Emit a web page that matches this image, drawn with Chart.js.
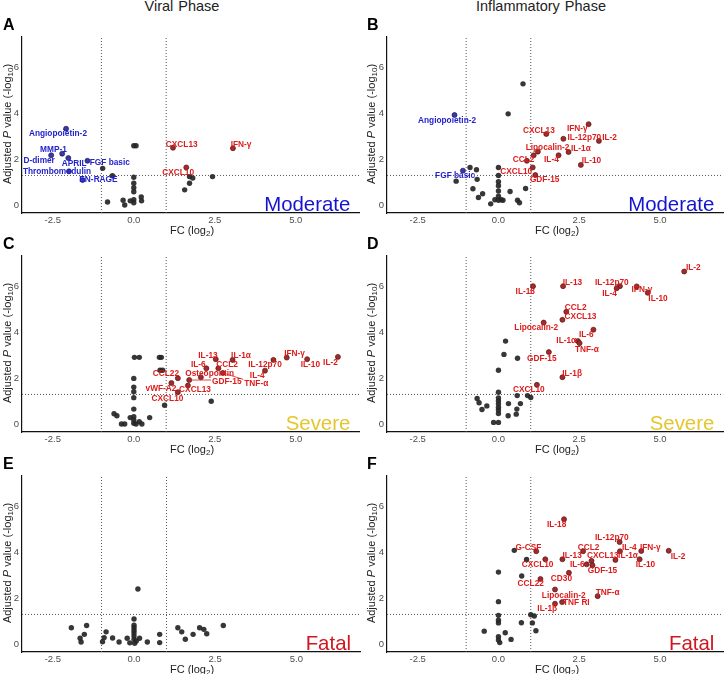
<!DOCTYPE html>
<html>
<head>
<meta charset="utf-8">
<script src="https://cdn.jsdelivr.net/npm/chart.js@4.4.1/dist/chart.umd.min.js"></script>
<style>
    body { margin: 0; background: #fff; font-family: "Liberation Sans", Arial, sans-serif; }
    #fig { position: relative; width: 728px; height: 674px; overflow: hidden; }
    #fig canvas { position: absolute; }
    .col-title { position: absolute; top: -2px; width: 300px; text-align: center; font-size: 14.5px; line-height: 16px; color: #222; word-spacing: 1px; }
    .letter { position: absolute; font-weight: bold; font-size: 16px; line-height: 18px; color: #000; }
    .ytitle { position: absolute; width: 180px; height: 14px; line-height: 14px; text-align: center; font-size: 11px; color: #222; white-space: nowrap; transform: rotate(-90deg); }
    .xtitle { position: absolute; width: 120px; height: 14px; line-height: 14px; text-align: center; font-size: 11px; color: #222; }
    sub { font-size: 8px; vertical-align: -2px; line-height: 0; }
</style>
</head>
<body>
<div id="fig"></div>
<script>
const xTicks = [-2.5, 0, 2.5, 5];
const yTicks = [0, 2, 4, 6];
const fcCut = 1;
const pCut = 1.3;
const columnTitles = ['Viral Phase', 'Inflammatory Phase'];

// ---- A: viral phase, moderate ----
const viralModNs = [[-0.96,1.61],[-0.66,1.29],[-0.81,0.14],[0.0,2.6],[0.07,2.6],[0.0,1.22],[0.0,0.96],[0.0,0.76],[0.0,0.59],
    [0.0,0.24],[0.0,0.11],[-0.33,0.22],[-0.28,0.01],[-0.11,0.19],[0.23,0.36],[0.24,0.19],[1.72,1.25],[1.82,1.19],[1.72,0.96],
    [1.57,0.67],[2.43,1.25]];
const viralModUp = [['CXCL13',1.21,2.51],['IFN-γ',3.06,2.49],['CXCL10',1.62,1.65]];
const viralModDown = [['Angiopoietin-2',-2.09,3.34],['MMP-1',-2.21,2.25],['D-dimer',-2.55,2.18],['APRIL',-2.02,2.06],
    ['FGF basic',-1.43,1.94],['Thrombomodulin',-2.0,1.48],['EN-RAGE',-1.58,1.10]];
const viralModSpots = {'CXCL13':[1.48,2.64],'IFN-γ':[3.31,2.64],'CXCL10':[1.37,1.43],'Angiopoietin-2':[-2.34,3.11],
    'MMP-1':[-2.48,2.42],'D-dimer':[-2.92,1.94],'APRIL':[-1.84,1.82],'FGF basic':[-0.74,1.84],
    'Thrombomodulin':[-2.37,1.48],'EN-RAGE':[-1.09,1.12]};

// ---- B: inflammatory phase, moderate ----
const inflModNs = [[0.76,5.30],[0.30,3.99],[-1.31,1.05],[-0.88,1.65],[-0.68,1.55],[-0.66,1.13],[-0.79,0.72],[-0.49,0.50],
    [-0.62,0.34],[-0.24,0.06],[-0.11,0.24],[0.0,1.65],[0.0,1.30],[0.0,1.03],[0.0,0.85],[0.0,0.62],[0.0,0.39],[0.0,0.22],
    [0.08,0.24],[0.14,0.22],[0.36,0.60],[0.59,0.22],[0.65,0.11],[0.84,0.73]];
const inflModUp = [['CXCL13',1.48,3.11],['IFN-γ',2.79,3.54],['IL-12p70',2.01,2.90],['IL-2',3.11,2.81],['Lipocalin-2',1.22,2.34],
    ['',1.09,2.18],['IL-1α',2.17,2.32],['IL-4',1.86,2.18],['CCL2',0.88,1.94],['IL-10',2.55,1.76],['CXCL10',1.06,1.65],
    ['GDF-15',1.14,1.32]];
const inflModDown = [['Angiopoietin-2',-1.36,3.94],['FGF basic',-1.10,1.51]];
const inflModSpots = {'Angiopoietin-2':[-1.59,3.70],'CXCL13':[1.25,3.25],'IFN-γ':[2.44,3.34],'IL-12p70':[2.66,2.94],
    'IL-2':[3.44,2.94],'Lipocalin-2':[1.52,2.49],'IL-1α':[2.55,2.48],'CCL2':[0.78,1.98],'IL-4':[1.64,1.98],
    'IL-10':[2.88,1.94],'FGF basic':[-1.34,1.28],'CXCL10':[0.55,1.46],'GDF-15':[1.43,1.12]};

// ---- C: viral phase, severe ----
const viralSevNs = [[0.02,2.92],[0.17,2.92],[0.79,2.92],[0.85,2.92],[0.81,2.36],[0.89,2.36],[0.0,2.0],[0.0,1.62],[0.0,1.42],
    [0.0,1.16],[0.0,0.66],[0.0,0.33],[0.0,0.18],[0.0,0.04],[-0.61,0.46],[-0.52,0.37],[-0.38,0.01],[-0.28,0.01],[-0.11,0.29],
    [0.17,0.11],[0.25,0.01],[0.07,0.01],[0.49,0.29],[0.95,0.83],[2.39,1.00]];
const viralSevUp = [['IL-13',2.53,2.84],['IL-1α',3.05,2.81],['IL-6',2.24,2.44],['CCL2',2.61,2.44],['IL-12p70',4.31,2.81],
    ['IFN-γ',4.72,2.91],['IL-10',5.35,2.84],['IL-2',6.30,2.94],['IL-4',4.05,2.34],['CCL22',1.36,2.01],['Osteopontin',2.07,2.05],
    ['GDF-15',1.71,1.93],['TNF-α',2.75,2.24],['vWF-A2',1.16,1.80],['CXCL13',1.67,1.69],['CXCL10',1.36,1.40]];
const viralSevSpots = {'IL-13':[2.29,3.01],'IL-1α':[3.31,2.98],'IL-6':[1.99,2.62],'CCL2':[2.88,2.62],'IL-12p70':[4.05,2.58],
    'IFN-γ':[4.96,3.08],'IL-10':[5.45,2.58],'IL-2':[6.07,2.69],'IL-4':[3.81,2.12],'CCL22':[0.99,2.19],'Osteopontin':[2.34,2.22],
    'GDF-15':[2.87,1.86],'TNF-α':[3.78,1.76],'vWF-A2':[0.84,1.55],'CXCL13':[1.89,1.50],'CXCL10':[1.04,1.12]};

// ---- D: inflammatory phase, severe ----
const inflSevNs = [[0.22,3.63],[0.17,3.05],[0.59,2.88],[0.0,2.36],[0.0,1.40],[0.0,1.15],[0.0,1.02],[0.0,0.89],[0.0,0.74],
    [0.0,0.62],[0.0,0.47],[0.0,0.08],[-0.15,0.08],[-0.66,1.12],[-0.60,0.94],[-0.36,0.80],[-0.51,0.64],[0.31,0.90],[0.30,0.37],
    [0.55,0.44],[0.57,0.66],[0.58,1.25],[0.68,0.90],[0.90,1.25],[1.0,1.17]];
const inflSevUp = [['IL-2',5.75,6.67],['IL-18',1.07,6.03],['IL-13',2.0,6.03],['IL-12p70',3.76,6.03],['IL-4',3.66,5.94],
    ['IFN-γ',4.28,6.02],['IL-10',4.62,5.74],['CCL2',2.10,4.91],['CXCL13',1.98,4.56],['Lipocalin-2',1.40,4.44],['IL-6',2.94,4.13],
    ['IL-1α',2.46,3.63],['TNF-α',2.51,3.54],['GDF-15',1.56,3.15],['IL-1β',1.98,2.05],['CXCL10',1.19,1.72]];
const inflSevSpots = {'IL-2':[6.03,6.85],'IL-18':[0.83,5.80],'IL-13':[2.29,6.18],'IL-12p70':[3.51,6.18],'IL-4':[3.44,5.72],
    'IFN-γ':[4.44,5.86],'IL-10':[4.94,5.48],'CCL2':[2.39,5.09],'CXCL13':[2.54,4.70],'Lipocalin-2':[1.17,4.20],'IL-6':[2.72,3.93],
    'IL-1α':[2.10,3.65],'TNF-α':[2.74,3.24],'GDF-15':[1.34,2.88],'IL-1β':[2.28,2.21],'CXCL10':[0.94,1.50]};

// ---- E: viral phase, fatal ----
const viralFatNs = [[0.12,2.41],[-1.93,0.72],[-1.46,0.82],[-1.53,0.43],[-1.66,0.26],[-1.63,0.10],[-0.92,0.29],[-0.97,0.11],
    [-0.86,0.54],[-0.66,0.27],[-0.46,0.10],[-0.21,0.26],[-0.13,0.06],[0.02,0.04],[0.17,0.26],[0.41,0.10],[0.79,0.43],[0.79,0.07],
    [0.0,1.10],[0.0,0.83],[0.0,0.72],[0.0,0.60],[0.0,0.49],[0.0,0.36],[0.0,0.22],[0.07,0.14],[1.35,0.72],[1.47,0.54],
    [1.58,0.22],[1.82,0.43],[2.02,0.72],[2.15,0.65],[2.24,0.46],[2.75,0.82]];

// ---- F: inflammatory phase, fatal ----
const inflFatNs = [[0.49,4.10],[0.87,3.70],[0.0,3.15],[0.72,2.98],[0.0,1.86],[0.0,1.26],[0.0,1.05],[0.0,0.93],[0.0,0.33],
    [0.0,0.18],[0.04,0.07],[0.21,0.50],[0.39,0.21],[-0.44,0.57],[0.71,0.94],[1.0,1.29],[1.11,1.23],[1.05,0.93],[1.16,0.59]];
const inflFatUp = [['IL-18',2.03,5.46],['IL-12p70',3.75,4.46],['CCL2',2.62,4.06],['IL-4',3.76,4.06],['IFN-γ',4.42,4.07],
    ['IL-2',5.27,4.08],['G-CSF',1.17,4.06],['CXCL10',1.45,3.71],['IL-13',1.98,3.71],['CXCL13',2.88,3.64],['IL-6',2.73,3.49],
    ['GDF-15',2.91,3.45],['IL-1α',3.62,3.68],['IL-10',4.37,3.71],['CD30',2.18,3.12],['CCL22',1.30,2.85],['Lipocalin-2',1.75,2.39],
    ['TNF-α',3.07,2.10],['TNF RI',1.97,1.84],['IL-1β',1.75,1.77]];
const inflFatSpots = {'IL-18':[1.80,5.21],'IL-12p70':[3.51,4.63],'CCL2':[2.79,4.22],'IL-4':[4.05,4.20],'IFN-γ':[4.70,4.21],
    'G-CSF':[0.93,4.21],'IL-2':[5.56,3.84],'IL-13':[2.28,3.85],'CXCL13':[3.23,3.85],'IL-1α':[4.01,3.85],'CXCL10':[1.21,3.49],
    'IL-6':[2.44,3.49],'IL-10':[4.55,3.49],'GDF-15':[3.22,3.21],'CD30':[1.95,2.88],'CCL22':[1.0,2.63],'Lipocalin-2':[2.02,2.13],
    'TNF-α':[3.38,2.27],'TNF RI':[2.41,1.80],'IL-1β':[1.51,1.56]};

const X_MIN = -3.45, X_MAX = 6.96;
const Y_MIN = -0.34, Y_MAX = 7.36;
const FONT = '"Liberation Sans", Arial, sans-serif';
const RED_TEXT = '#de1a1a';
const BLUE_TEXT = '#2222cc';

const panels = [
    {letter: 'A', col: 0, row: 0, ns: viralModNs, up: viralModUp, down: viralModDown, spots: viralModSpots, tag: 'Moderate', tagColor: '#1414d2'},
    {letter: 'B', col: 1, row: 0, ns: inflModNs, up: inflModUp, down: inflModDown, spots: inflModSpots, tag: 'Moderate', tagColor: '#1414d2'},
    {letter: 'C', col: 0, row: 1, ns: viralSevNs, up: viralSevUp, down: [], spots: viralSevSpots, tag: 'Severe', tagColor: '#e6c62e'},
    {letter: 'D', col: 1, row: 1, ns: inflSevNs, up: inflSevUp, down: [], spots: inflSevSpots, tag: 'Severe', tagColor: '#e6c62e'},
    {letter: 'E', col: 0, row: 2, ns: viralFatNs, up: [], down: [], spots: {}, tag: 'Fatal', tagColor: '#d0161f'},
    {letter: 'F', col: 1, row: 2, ns: inflFatNs, up: inflFatUp, down: [], spots: inflFatSpots, tag: 'Fatal', tagColor: '#d0161f'}
];

// plot area geometry (page pixels)
const colLeft = [22, 387];
const colRight = [362, 727];
const rowTop = [34, 253, 473];
const rowBottom = [213, 432, 652];

// gene labels, repel-style, with a segment when the label sits away from its point
const geneLabels = {
    id: 'geneLabels',
    afterDatasetsDraw(chart, args, opts) {
        const ctx = chart.ctx;
        const xs = chart.scales.x, ys = chart.scales.y;
        ctx.save();
        ctx.font = 'bold 8.3px ' + FONT;
        ctx.textAlign = 'center';
        ctx.textBaseline = 'middle';
        opts.items.forEach(it => {
            const px = xs.getPixelForValue(it.lx), py = ys.getPixelForValue(it.ly);
            const qx = xs.getPixelForValue(it.x), qy = ys.getPixelForValue(it.y);
            const hw = ctx.measureText(it.text).width / 2 + 1, hh = 4.5;
            const ex = Math.max(px - hw, Math.min(qx, px + hw));
            const ey = Math.max(py - hh, Math.min(qy, py + hh));
            if (Math.hypot(qx - ex, qy - ey) > 6) {
                ctx.strokeStyle = it.color;
                ctx.lineWidth = 0.8;
                ctx.beginPath();
                ctx.moveTo(qx, qy);
                ctx.lineTo(ex, ey);
                ctx.stroke();
            }
            ctx.fillStyle = it.color;
            ctx.fillText(it.text, px, py);
        });
        ctx.restore();
    }
};

const cornerTag = {
    id: 'cornerTag',
    afterDatasetsDraw(chart, args, opts) {
        const ctx = chart.ctx;
        const area = chart.chartArea;
        ctx.save();
        ctx.font = '20.4px ' + FONT;
        ctx.fillStyle = opts.color;
        ctx.textAlign = 'right';
        ctx.textBaseline = 'alphabetic';
        ctx.fillText(opts.text, area.right - 9, area.bottom - 2.5);
        ctx.restore();
    }
};

function refLine(points) {
    return {
        data: points, showLine: true, borderColor: '#555', borderWidth: 1, borderDash: [1, 2],
        pointRadius: 0, fill: false, order: 9
    };
}

function addText(cls, html, style) {
    const d = document.createElement('div');
    d.className = cls;
    d.innerHTML = html;
    Object.assign(d.style, style);
    document.getElementById('fig').appendChild(d);
}

function drawPanel(p) {
    const fig = document.getElementById('fig');
    const canvasLeft = p.col * 364;
    const top = rowTop[p.row], bottom = rowBottom[p.row];
    const left = colLeft[p.col], right = colRight[p.col];
    const canvas = document.createElement('canvas');
    const h = bottom - top + 6 + 16;
    canvas.width = 364;
    canvas.height = h;
    canvas.style.left = canvasLeft + 'px';
    canvas.style.top = (top - 6) + 'px';
    canvas.style.width = '364px';
    canvas.style.height = h + 'px';
    fig.appendChild(canvas);

    const toXY = arr => arr.map(d => ({x: d[0], y: d[1]}));
    const named = arr => arr.map(d => ({x: d[1], y: d[2]}));

    const items = [];
    p.up.forEach(d => {
        if (p.spots[d[0]]) items.push({text: d[0], x: d[1], y: d[2], lx: p.spots[d[0]][0], ly: p.spots[d[0]][1], color: RED_TEXT});
    });
    p.down.forEach(d => {
        if (p.spots[d[0]]) items.push({text: d[0], x: d[1], y: d[2], lx: p.spots[d[0]][0], ly: p.spots[d[0]][1], color: BLUE_TEXT});
    });

    new Chart(canvas, {
        type: 'scatter',
        data: {
            datasets: [
                {data: named(p.up), backgroundColor: '#a12b2b', borderColor: '#561414', borderWidth: 0.7, pointRadius: 2.5, order: 1},
                {data: named(p.down), backgroundColor: '#3a3aa6', borderColor: '#17175e', borderWidth: 0.7, pointRadius: 2.5, order: 2},
                {data: toXY(p.ns), backgroundColor: 'rgba(38,38,38,0.92)', borderWidth: 0, pointRadius: 2.7, order: 3},
                refLine([{x: -fcCut, y: Y_MIN}, {x: -fcCut, y: Y_MAX}]),
                refLine([{x: fcCut, y: Y_MIN}, {x: fcCut, y: Y_MAX}]),
                refLine([{x: X_MIN, y: pCut}, {x: X_MAX, y: pCut}])
            ]
        },
        options: {
            responsive: false,
            animation: false,
            events: [],
            layout: {padding: {top: 6, right: 364 - (right - canvasLeft), left: 0, bottom: 0}},
            plugins: {
                legend: {display: false},
                tooltip: {enabled: false},
                geneLabels: {items: items},
                cornerTag: {text: p.tag, color: p.tagColor}
            },
            scales: {
                x: {
                    type: 'linear', min: X_MIN, max: X_MAX,
                    afterFit: s => { s.height = 16; },
                    afterBuildTicks: s => { s.ticks = xTicks.map(v => ({value: v})); },
                    ticks: {callback: v => v.toFixed(1), font: {size: 9.5, family: FONT}, color: '#4d4d4d', padding: 2, maxRotation: 0, autoSkip: false},
                    grid: {display: false, drawTicks: false},
                    border: {display: true, color: '#111', width: 1.2}
                },
                y: {
                    type: 'linear', min: Y_MIN, max: Y_MAX,
                    afterFit: s => { s.width = left - canvasLeft; },
                    afterBuildTicks: s => { s.ticks = yTicks.map(v => ({value: v})); },
                    ticks: {callback: v => String(v), font: {size: 9.5, family: FONT}, color: '#4d4d4d', padding: 3, autoSkip: false},
                    grid: {display: false, drawTicks: false},
                    border: {display: true, color: '#111', width: 1.2}
                }
            }
        },
        plugins: [geneLabels, cornerTag]
    });

    // panel letter and axis titles
    addText('letter', p.letter, {left: (canvasLeft + 3) + 'px', top: (top - 18) + 'px'});
    const cy = (top + bottom) / 2;
    const yx = p.col === 0 ? 6.5 : 370.5;
    addText('ytitle', 'Adjusted <i>P</i> value (-log<sub>10</sub>)', {left: (yx - 90) + 'px', top: (cy - 7) + 'px'});
    addText('xtitle', 'FC (log<sub>2</sub>)', {left: ((left + right) / 2 - 60) + 'px', top: (bottom + 9.5) + 'px'});
}

document.addEventListener('DOMContentLoaded', function() {
    columnTitles.forEach((t, i) => {
        addText('col-title', t, {left: (i === 0 ? 182 - 150 : 541 - 150) + 'px'});
    });
    panels.forEach(drawPanel);
});
</script>
</body>
</html>
